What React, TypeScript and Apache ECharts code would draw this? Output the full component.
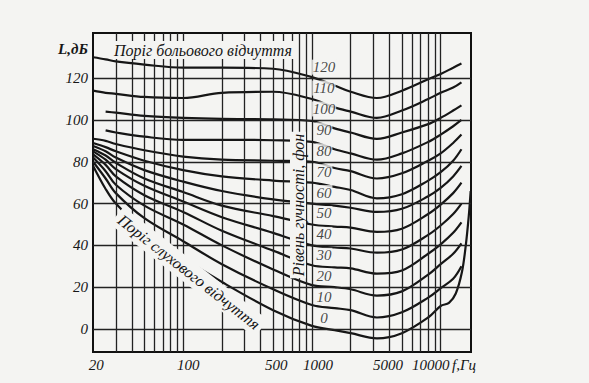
import React, { useEffect, useRef } from 'react';
import * as echarts from 'echarts';

// Frequencies (Hz) at which the equal-loudness curves are read
const FREQ = [20, 25, 30, 50, 100, 200, 500, 1000, 1500, 2000, 3200, 5000, 8000, 10000, 12500, 14500];

// Sound pressure level (dB) of each loudness curve (phon) at FREQ
const L120 = [130, 129, 128, 126.5, 125, 125, 124.5, 120.5, 116.5, 113.5, 110.5, 114, 119.5, 122, 125, 127];
const L110 = [114, 113, 112.5, 111, 110.5, 113, 113.5, 110, 106, 104, 101, 104.5, 110, 113, 115.5, 118];
const L100 = [null, 104, 103.5, 102, 101, 100.5, 100.3, 99.5, 96, 94, 91, 94, 98, 101, 104.5, 107];
const L90 = [null, 95, 94, 92, 90.5, 90.5, 90.3, 89.5, 86, 84, 81, 84, 89.5, 93, 97, 100];
const L80 = [91, 90, 88.5, 85.5, 82.5, 81, 80.5, 80, 77, 75.5, 72, 74.5, 80.5, 84, 89, 93];
const L70 = [89, 87, 85, 80.5, 76, 73, 71, 70, 68, 66.5, 62.5, 64.5, 71, 75, 80.5, 86];
const L60 = [87.5, 85, 82, 76, 70.5, 66, 62, 60, 59, 58, 56, 57.5, 63.5, 67.5, 73, 78];
const L50 = [86, 83, 79.5, 72, 65.5, 59, 54, 50, 49, 48.5, 46.5, 48, 55, 59.5, 65, 70];
const L40 = [85, 81, 76.5, 68.5, 61, 53.5, 46, 40, 39, 38.5, 36.5, 38, 45, 49.5, 55, 60];
const L30 = [83.5, 78.5, 73, 64, 56, 47, 37.5, 30.5, 29.5, 29, 26.5, 28, 36, 40.5, 46, 51];
const L20 = [82, 75.5, 69, 59, 50, 40, 28.5, 21, 20, 19, 16, 18, 26, 31, 36, 41];
const L10 = [80, 72, 65, 53, 42, 31, 19, 11.5, 10, 9, 5.5, 8, 15, 19.5, 24, 30];

// Threshold of hearing (0 phon)
const THRESHOLD_FREQ = [20, 25, 30, 50, 100, 200, 500, 1000, 1500, 2000, 3200, 5000, 8000, 10000, 11600, 13100, 14600, 15600, 16500, 17100];
const THRESHOLD_L = [78, 67, 60, 47, 34, 22.5, 9, 1.5, -0.5, -2, -4.5, -2, 5.5, 11, 12.5, 17, 27, 39, 53.5, 66];

const CURVES = [L120, L110, L100, L90, L80, L70, L60, L50, L40, L30, L20, L10];
const PHON_LEVELS = [120, 110, 100, 90, 80, 70, 60, 50, 40, 30, 20, 10, 0];

const X_TICKS = [20, 100, 500, 1000, 5000, 10000];
const Y_TICKS = [0, 20, 40, 60, 80, 100, 120];
const X_GRID = [30, 40, 50, 60, 70, 80, 90, 100, 200, 300, 400, 500, 600, 700, 800, 900, 1000, 2000, 3000, 4000, 5000, 6000, 7000, 8000, 9000, 10000];
const Y_GRID = [0, 20, 40, 60, 80, 100, 120];

const BG = '#f4f4f2';
const INK = '#161616';
const FONT = '"Liberation Serif", "DejaVu Serif", serif';

export default function App() {
  const ref = useRef<HTMLDivElement>(null);

  useEffect(() => {
    if (!ref.current) return;
    const chart = echarts.init(ref.current, undefined, { renderer: 'svg' });

    const curveSeries: any[] = CURVES.map((vals, ci) => ({
      type: 'line',
      name: String(PHON_LEVELS[ci]),
      data: FREQ.map((f, i) => [f, vals[i]]).filter((p) => p[1] !== null),
      smooth: 0.35,
      showSymbol: false,
      symbol: 'none',
      lineStyle: { color: INK, width: 2.2 },
      z: 3,
      silent: true,
    }));

    const thresholdSeries = {
      type: 'line',
      name: '0',
      data: THRESHOLD_FREQ.map((f, i) => [f, THRESHOLD_L[i]]),
      smooth: 0.35,
      symbol: 'none',
      lineStyle: { color: INK, width: 2.2 },
      z: 3,
      silent: true,
      markLine: {
        silent: true,
        symbol: ['none', 'none'],
        label: { show: false },
        lineStyle: { color: '#222', width: 1.3, type: 'solid' },
        emphasis: { disabled: true },
        data: [
          ...X_GRID.map((v) => ({ xAxis: v })),
          ...Y_GRID.map((v) => ({ yAxis: v })),
        ],
      },
    };

    const labelSeries = {
      type: 'scatter',
      data: PHON_LEVELS.map((n) => [1000, n]),
      symbolSize: 0,
      z: 6,
      silent: true,
      label: {
        show: true,
        position: 'inside',
        offset: [12, -11],
        formatter: (p: any) => String(p.value[1]),
        fontFamily: FONT,
        fontStyle: 'italic',
        fontSize: 15,
        color: INK,
        backgroundColor: BG,
        padding: [0, 1],
      },
    };

    const shiftStyle = (d: number) => ({
      padding: d >= 0 ? [0, 0, 0, 2 * d] : [0, -2 * d, 0, 0],
    });

    chart.setOption({
      animation: false,
      backgroundColor: BG,
      grid: {
        left: 93,
        right: 118,
        top: 33,
        bottom: 31,
        show: true,
        borderColor: '#111',
        borderWidth: 2,
        backgroundColor: 'transparent',
      },
      xAxis: {
        type: 'log',
        logBase: 10,
        min: 19.95,
        max: 17200,
        axisLine: { show: false },
        axisTick: { show: false },
        splitLine: { show: false },
        minorSplitLine: { show: false },
        axisLabel: {
          customValues: X_TICKS,
          margin: 5,
          color: INK,
          fontFamily: FONT,
          fontStyle: 'italic',
          fontSize: 15,
          formatter: (v: number) => {
            const key: Record<number, string> = { 20: 'a', 100: 'b', 500: 'a', 1000: 'c', 5000: 'd', 10000: 'e' };
            return `{${key[Math.round(v)] || 'a'}|${Math.round(v)}}`;
          },
          rich: {
            a: shiftStyle(3),
            b: shiftStyle(5),
            c: shiftStyle(6),
            d: shiftStyle(-14),
            e: shiftStyle(-10),
          },
        },
      },
      yAxis: {
        type: 'value',
        min: -11,
        max: 141.6,
        axisLine: { show: false },
        axisTick: { show: false },
        splitLine: { show: false },
        axisLabel: {
          customValues: Y_TICKS,
          margin: 5,
          color: INK,
          fontFamily: FONT,
          fontStyle: 'italic',
          fontSize: 15,
        },
      },
      series: [thresholdSeries, ...curveSeries, labelSeries],
      graphic: [
        {
          type: 'text', x: 88, y: 49, z: 100,
          style: { text: 'L,дБ', font: `italic bold 15px ${FONT}`, fill: INK, align: 'right', verticalAlign: 'middle' },
        },
        {
          type: 'text', x: 452, y: 365, z: 100,
          style: { text: 'f,Гц', font: `italic 15px ${FONT}`, fill: INK, align: 'left', verticalAlign: 'middle' },
        },
        {
          type: 'text', x: 203, y: 50, z: 100,
          style: {
            text: 'Поріг больового відчуття', font: `italic 16px ${FONT}`, fill: INK,
            align: 'center', verticalAlign: 'middle', backgroundColor: BG, padding: [1, 3],
          },
        },
        {
          type: 'text', x: 298, y: 205, z: 100, rotation: Math.PI / 2,
          style: {
            text: 'Рівень гучності, фон', font: `italic 16px ${FONT}`, fill: INK,
            align: 'center', verticalAlign: 'middle', backgroundColor: BG, padding: [0, 2],
          },
        },
        {
          type: 'text', x: 189, y: 272, z: 100, rotation: -0.665,
          style: {
            text: 'Поріг слухового відчуття', font: `italic 16px ${FONT}`, fill: INK,
            align: 'center', verticalAlign: 'middle', backgroundColor: BG, padding: [3, 4],
          },
        },
      ],
    });

    return () => chart.dispose();
  }, []);

  return (
    <div
      ref={ref}
      style={{ position: 'fixed', left: 0, top: 0, width: 589, height: 383, background: BG }}
    />
  );
}
